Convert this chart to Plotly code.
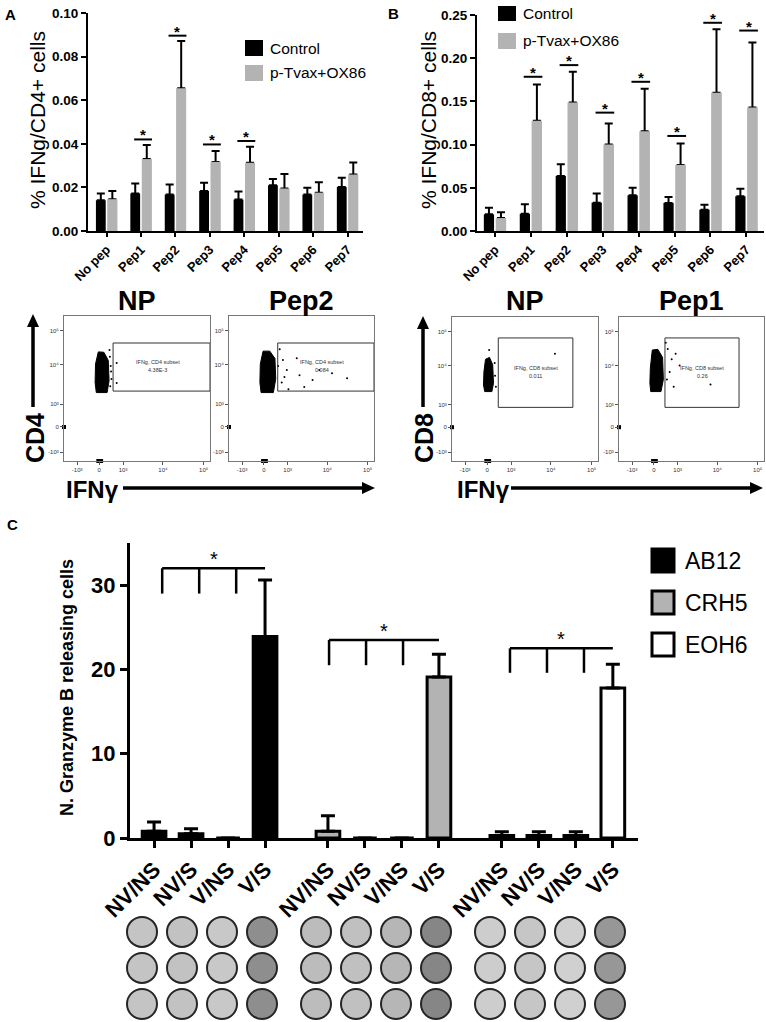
import plotly.graph_objects as go

W, H = 766, 1022
FONT = "Liberation Sans, Arial, Helvetica, sans-serif"

# ---------------- Panels A / B ----------------
pep_labels = ["No pep", "Pep1", "Pep2", "Pep3", "Pep4", "Pep5", "Pep6", "Pep7"]
group_names = ["Control", "p-Tvax+OX86"]

a_control = [0.0141, 0.0172, 0.0167, 0.0184, 0.0144, 0.0210, 0.0167, 0.0202]
a_control_err = [0.0031, 0.0046, 0.0046, 0.0037, 0.0037, 0.0029, 0.0031, 0.0042]
a_treated = [0.0146, 0.0330, 0.0655, 0.0317, 0.0313, 0.0195, 0.0176, 0.0259]
a_treated_err = [0.0037, 0.0064, 0.0216, 0.0050, 0.0074, 0.0066, 0.0048, 0.0055]
a_sig_peps = ["Pep1", "Pep2", "Pep3", "Pep4"]
a_sig_level = [0.0420, 0.0896, 0.0397, 0.0413]
a_yticks = [0.00, 0.02, 0.04, 0.06, 0.08, 0.10]

b_control = [0.0193, 0.0200, 0.0638, 0.0328, 0.0413, 0.0325, 0.0247, 0.0402]
b_control_err = [0.0077, 0.0110, 0.0135, 0.0105, 0.0089, 0.0069, 0.0058, 0.0088]
b_treated = [0.0150, 0.1275, 0.1488, 0.1000, 0.1155, 0.0765, 0.1600, 0.1430]
b_treated_err = [0.0066, 0.0421, 0.0355, 0.0244, 0.0491, 0.0247, 0.0734, 0.0753]
b_sig_peps = ["Pep1", "Pep2", "Pep3", "Pep4", "Pep5", "Pep6", "Pep7"]
b_sig_level = [0.1785, 0.1920, 0.1370, 0.1727, 0.1100, 0.2410, 0.2320]
b_yticks = [0.00, 0.05, 0.10, 0.15, 0.20, 0.25]

# ---------------- Flow cytometry dot plots (biexponential display units) ----------------
facs_tick_text = ["-10³", "0", "10³", "10⁴", "10⁵"]
facs_xtick_pos = [-0.55, 0.0, 0.60, 1.60, 2.62]
facs_ytick_pos = [-0.68, 0.0, 0.62, 1.68, 2.60]

cd4_np_cluster_x = [-0.07, 0.20, 0.25, 0.23, 0.12, -0.02, -0.09, -0.10]
cd4_np_cluster_y = [0.93, 0.93, 1.25, 1.80, 2.02, 2.03, 1.70, 1.20]
cd4_np_events_x = [0.28, 0.30, 0.27, 0.31, 0.44, 0.44, 0.26, 0.29]
cd4_np_events_y = [1.10, 1.50, 1.90, 1.30, 1.73, 1.19, 2.08, 1.65]

cd4_p2_cluster_x = [-0.07, 0.24, 0.30, 0.28, 0.15, -0.02, -0.09, -0.10]
cd4_p2_cluster_y = [0.93, 0.93, 1.30, 1.85, 2.05, 2.05, 1.70, 1.20]
cd4_p2_events_x = [0.48, 0.83, 0.58, 1.40, 2.10, 1.23, 0.90, 0.45, 0.62, 1.02, 1.72, 0.40, 0.36, 0.52]
cd4_p2_events_y = [1.81, 1.86, 1.54, 1.54, 1.32, 1.27, 1.40, 1.20, 1.02, 1.08, 1.45, 2.10, 1.65, 1.35]

cd8_np_cluster_x = [-0.06, 0.12, 0.16, 0.14, 0.06, -0.04, -0.08, -0.09]
cd8_np_cluster_y = [0.97, 0.97, 1.20, 1.70, 1.90, 1.85, 1.50, 1.15]
cd8_np_events_x = [1.70, 0.20, 0.19, 0.05, 0.22]
cd8_np_events_y = [2.00, 1.40, 1.75, 2.10, 1.10]

cd8_p1_cluster_x = [-0.08, 0.18, 0.24, 0.22, 0.10, -0.04, -0.09, -0.10]
cd8_p1_cluster_y = [0.97, 0.97, 1.30, 1.90, 2.12, 2.10, 1.60, 1.20]
cd8_p1_events_x = [0.35, 0.55, 0.50, 1.43, 0.65, 0.40, 0.45, 0.30, 0.33]
cd8_p1_events_y = [2.13, 2.00, 1.10, 1.16, 1.68, 1.50, 1.85, 2.30, 1.30]

cd4_gate = [0.35, 2.80, 0.97, 2.27]   # x0, x1, y0, y1
cd8_gate = [0.28, 2.15, 0.54, 2.43]
cd4_gate_name = "IFNg, CD4 subset"
cd8_gate_name = "IFNg, CD8 subset"
facs_titles = ["NP", "Pep2", "NP", "Pep1"]
facs_gate_values = ["4.38E-3", "0.084", "0.011", "0.26"]

# ---------------- Panel C : Granzyme B ----------------
c_conditions = ["NV/NS", "NV/S", "V/NS", "V/S"]
c_lines = ["AB12", "CRH5", "EOH6"]
ab12_mean = [0.8, 0.5, 0.0, 23.9]
ab12_err = [1.1, 0.6, 0.0, 6.7]
crh5_mean = [0.8, 0.0, 0.0, 19.1]
crh5_err = [1.85, 0.0, 0.0, 2.7]
eoh6_mean = [0.3, 0.3, 0.3, 17.8]
eoh6_err = [0.45, 0.45, 0.45, 2.8]
c_bracket_top = [32.0, 23.5, 22.5]
c_bracket_drop = [29.0, 20.5, 19.6]
c_yticks = [0, 10, 20, 30]

well_replicates = [3, 2, 1]
ab12_well_shade = ["#c4c4c4", "#c2c2c2", "#c8c8c8", "#8e8e8e"]
crh5_well_shade = ["#bcbcbc", "#c0c0c0", "#b6b6b6", "#868686"]
eoh6_well_shade = ["#cdcdcd", "#c6c6c6", "#d0d0d0", "#979797"]

# ---------------- helpers ----------------
def fx(p):
    return p / W


def fy(p):
    return 1 - p / H


annotations = []
shapes = []


def ann(text, x, y, size, bold=False, xanchor="center", yanchor="middle", angle=0,
        xref="paper", yref="paper", color="black"):
    annotations.append(dict(
        text=text, x=x, y=y, xref=xref, yref=yref, showarrow=False,
        xanchor=xanchor, yanchor=yanchor, textangle=angle,
        font=dict(family=FONT, size=size, color=color, weight="bold" if bold else "normal")))


def arrow_v(x, y_tail, y_head):
    shapes.append(dict(type="line", xref="paper", yref="paper", x0=fx(x), x1=fx(x),
                       y0=fy(y_tail), y1=fy(y_head + 10), line=dict(color="black", width=3.5)))
    shapes.append(dict(type="path", xref="paper", yref="paper", fillcolor="black", line=dict(width=0),
                       path="M %f %f L %f %f L %f %f Z" % (fx(x - 6), fy(y_head + 13), fx(x + 6), fy(y_head + 13),
                                                         fx(x), fy(y_head))))


def arrow_h(x_tail, x_head, y):
    shapes.append(dict(type="line", xref="paper", yref="paper", x0=fx(x_tail), x1=fx(x_head - 10),
                       y0=fy(y), y1=fy(y), line=dict(color="black", width=3.5)))
    shapes.append(dict(type="path", xref="paper", yref="paper", fillcolor="black", line=dict(width=0),
                       path="M %f %f L %f %f L %f %f Z" % (fx(x_head - 13), fy(y - 6), fx(x_head - 13), fy(y + 6),
                                                         fx(x_head), fy(y))))


fig = go.Figure()

GRAY = "#b3b3b3"


def add_ab_panel(xa, ya, ctl, ctl_err, trt, trt_err):
    fig.add_bar(x=pep_labels, y=ctl, name=group_names[0], marker=dict(color="black", line=dict(width=0)),
                offsetgroup="ctl", xaxis=xa, yaxis=ya,
                error_y=dict(type="data", symmetric=False, array=ctl_err, arrayminus=[0] * len(ctl),
                             color="black", thickness=2, width=4))
    fig.add_bar(x=pep_labels, y=trt, name=group_names[1], marker=dict(color=GRAY, line=dict(width=0)),
                offsetgroup="trt", xaxis=xa, yaxis=ya,
                error_y=dict(type="data", symmetric=False, array=trt_err, arrayminus=[0] * len(trt),
                             color="black", thickness=2, width=4))
    # repaint treated bars over the lower error-bar cap
    fig.add_bar(x=pep_labels, y=trt, marker=dict(color=GRAY, line=dict(width=0)),
                offsetgroup="trt", xaxis=xa, yaxis=ya, hoverinfo="skip")


add_ab_panel("x", "y", a_control, a_control_err, a_treated, a_treated_err)
add_ab_panel("x2", "y2", b_control, b_control_err, b_treated, b_treated_err)

for peps, levels, xr, yr in [(a_sig_peps, a_sig_level, "x", "y"), (b_sig_peps, b_sig_level, "x2", "y2")]:
    for p, lv in zip(peps, levels):
        i = pep_labels.index(p)
        shapes.append(dict(type="line", xref=xr, yref=yr, x0=i - 0.2, x1=i + 0.32, y0=lv, y1=lv,
                           line=dict(color="black", width=2)))
        annotations.append(dict(text="*", x=i + 0.06, y=lv, xref=xr, yref=yr, showarrow=False,
                                yanchor="bottom", yshift=-6,
                                font=dict(family=FONT, size=15, color="black", weight="bold")))

# ---------------- FACS plots ----------------
facs_sets = [
    (cd4_np_cluster_x, cd4_np_cluster_y, cd4_np_events_x, cd4_np_events_y, cd4_gate, cd4_gate_name),
    (cd4_p2_cluster_x, cd4_p2_cluster_y, cd4_p2_events_x, cd4_p2_events_y, cd4_gate, cd4_gate_name),
    (cd8_np_cluster_x, cd8_np_cluster_y, cd8_np_events_x, cd8_np_events_y, cd8_gate, cd8_gate_name),
    (cd8_p1_cluster_x, cd8_p1_cluster_y, cd8_p1_events_x, cd8_p1_events_y, cd8_gate, cd8_gate_name),
]
facs_boxes = [(64, 210, 316, 461), (229, 374, 316, 461), (452, 598, 317, 461), (619, 764, 317, 461)]
FX_RANGE = [-0.88, 2.78]
FY_RANGE = [-0.92, 3.0]

for k, (cx, cy, ex, ey, gate, gname) in enumerate(facs_sets):
    xa, ya = "x%d" % (k + 3), "y%d" % (k + 3)
    fig.add_trace(go.Scatter(x=cx + [cx[0]], y=cy + [cy[0]], mode="lines", fill="toself",
                             fillcolor="black", line=dict(color="black", width=1),
                             xaxis=xa, yaxis=ya, hoverinfo="skip"))
    fig.add_trace(go.Scatter(x=ex, y=ey, mode="markers", marker=dict(color="black", size=2),
                             xaxis=xa, yaxis=ya, hoverinfo="skip"))
    fig.add_trace(go.Scatter(x=[-0.02, 0.05, FX_RANGE[0]], y=[FY_RANGE[0], FY_RANGE[0], 0.0], mode="markers",
                             marker=dict(color="black", size=4, symbol="square"), cliponaxis=False,
                             xaxis=xa, yaxis=ya, hoverinfo="skip"))
    gx1 = min(gate[1], FX_RANGE[1])
    shapes.append(dict(type="rect", xref=xa, yref=ya, x0=gate[0], x1=gx1, y0=gate[2], y1=gate[3],
                       line=dict(color="#333333", width=1)))
    mx = (gate[0] + min(gate[1], 2.6)) / 2
    my = (gate[2] + gate[3]) / 2
    annotations.append(dict(text=gname, x=mx, y=my, xref=xa, yref=ya, showarrow=False, yshift=5,
                            font=dict(family=FONT, size=5.5, color="#333333")))
    annotations.append(dict(text=facs_gate_values[k], x=mx, y=my, xref=xa, yref=ya, showarrow=False, yshift=-3,
                            font=dict(family=FONT, size=5.5, color="#333333")))
    bx0, bx1, by0, by1 = facs_boxes[k]
    ann(facs_titles[k], fx((bx0 + bx1) / 2), fy(301), 27, bold=True)

# ---------------- Panel C bars ----------------
C_GAP = 4.7
c_series = [(ab12_mean, ab12_err, "black"), (crh5_mean, crh5_err, GRAY), (eoh6_mean, eoh6_err, "white")]
c_tickvals, c_ticktext = [], []
for g, (mean, err, col) in enumerate(c_series):
    xs = [g * C_GAP + i for i in range(len(c_conditions))]
    c_tickvals += xs
    c_ticktext += c_conditions
    fig.add_bar(x=xs, y=mean, name=c_lines[g], width=0.64, offset=-0.32, offsetgroup="c",
                marker=dict(color=col, line=dict(color="black", width=3)),
                error_y=dict(type="data", symmetric=False, array=err, arrayminus=[0] * len(err),
                             color="black", thickness=3, width=7),
                xaxis="x7", yaxis="y7")
    offs = [0.22, 0.03, 0.22][g]
    top, drop = c_bracket_top[g], c_bracket_drop[g]
    left = g * C_GAP + offs
    right = g * C_GAP + 3
    shapes.append(dict(type="line", xref="x7", yref="y7", x0=left, x1=right, y0=top, y1=top,
                       line=dict(color="black", width=2.5)))
    for i in range(3):
        xv = g * C_GAP + i + offs
        shapes.append(dict(type="line", xref="x7", yref="y7", x0=xv, x1=xv, y0=drop, y1=top,
                           line=dict(color="black", width=2.5)))
    annotations.append(dict(text="*", x=(left + right) / 2, y=top, xref="x7", yref="y7", showarrow=False,
                            yanchor="bottom", yshift=-4, font=dict(family=FONT, size=20, color="black")))

# ---------------- wells ----------------
W_GAP = 4.35
for g, shades in enumerate([ab12_well_shade, crh5_well_shade, eoh6_well_shade]):
    for i, shade in enumerate(shades):
        fig.add_trace(go.Scatter(
            x=[g * W_GAP + i] * len(well_replicates), y=well_replicates, mode="markers",
            marker=dict(size=30, color=shade, line=dict(color="#262626", width=2)),
            xaxis="x8", yaxis="y8", hoverinfo="skip"))

# ---------------- axes ----------------
def ab_xaxis(domain, rng, anchor):
    return dict(domain=domain, anchor=anchor, type="category", categoryorder="array",
                categoryarray=pep_labels, range=rng, showline=True, linecolor="black", linewidth=2,
                ticks="outside", ticklen=4, tickwidth=2, tickcolor="black", tickangle=-45,
                tickfont=dict(family=FONT, size=13, color="black", weight="bold"),
                showgrid=False, zeroline=False, automargin=False)


def ab_yaxis(domain, rng, tv, anchor):
    return dict(domain=domain, anchor=anchor, range=rng, tickvals=tv, tickformat=".2f",
                showline=True, linecolor="black", linewidth=2, ticks="outside", ticklen=5,
                tickwidth=2, tickcolor="black", showgrid=False, zeroline=False, automargin=False,
                tickfont=dict(family=FONT, size=13.5, color="black", weight="bold"))


def facs_axes(box, n):
    bx0, bx1, by0, by1 = box
    common = dict(ticktext=facs_tick_text, showline=True, mirror=True, linecolor="#777777", linewidth=1,
                  ticks="outside", ticklen=3, tickcolor="#555555", showgrid=False, zeroline=False,
                  automargin=False, tickfont=dict(family=FONT, size=6, color="#333333"))
    xa = dict(domain=[fx(bx0), fx(bx1)], anchor="y%d" % n, range=FX_RANGE, tickvals=facs_xtick_pos, **common)
    ya = dict(domain=[fy(by1), fy(by0)], anchor="x%d" % n, range=FY_RANGE, tickvals=facs_ytick_pos, **common)
    return xa, ya


layout = dict(
    width=W, height=H, autosize=False, margin=dict(l=0, r=0, t=0, b=0, pad=0, autoexpand=False),
    paper_bgcolor="white", plot_bgcolor="rgba(0,0,0,0)",
    font=dict(family=FONT, color="black"), showlegend=False,
    barmode="group", bargap=0.33, bargroupgap=0.15,
    xaxis=ab_xaxis([fx(88), fx(363)], [-0.54, 7.45], "y"),
    yaxis=ab_yaxis([fy(231), fy(13)], [0, 0.10], a_yticks, "x"),
    xaxis2=ab_xaxis([fx(477), fx(764)], [-0.5, 7.49], "y2"),
    yaxis2=ab_yaxis([fy(231), fy(15)], [0, 0.25], b_yticks, "x2"),
    xaxis7=dict(domain=[fx(130), fx(638)], anchor="y7", range=[-0.65, 13.08], tickvals=c_tickvals,
                ticktext=c_ticktext, tickangle=-45, showline=True, linecolor="black", linewidth=3,
                ticks="outside", ticklen=7, tickwidth=3, tickcolor="black", showgrid=False, zeroline=False,
                automargin=False, tickfont=dict(family=FONT, size=22, color="black", weight="bold")),
    yaxis7=dict(domain=[fy(838), fy(543)], anchor="x7", range=[0, 35], tickvals=c_yticks,
                showline=True, linecolor="black", linewidth=3, ticks="outside", ticklen=7, tickwidth=3,
                tickcolor="black", showgrid=False, zeroline=False, automargin=False,
                tickfont=dict(family=FONT, size=22, color="black", weight="bold")),
    xaxis8=dict(domain=[fx(102), fx(650)], anchor="y8", range=[-1, 12.7], visible=False),
    yaxis8=dict(domain=[0, fy(915)], anchor="x8", range=[0.5, 3.47], visible=False),
)
for k, box in enumerate(facs_boxes):
    n = k + 3
    xa, ya = facs_axes(box, n)
    layout["xaxis%d" % n] = xa
    layout["yaxis%d" % n] = ya

# ---------------- text, legends, arrows ----------------
ann("A", fx(3), fy(4), 15, bold=True, xanchor="left", yanchor="top")
ann("B", fx(386), fy(3), 15, bold=True, xanchor="left", yanchor="top")
ann("C", fx(5), fy(514), 15, bold=True, xanchor="left", yanchor="top")

ann("% IFNg/CD4+ cells", fx(37), fy(120), 21, angle=-90)
ann("% IFNg/CD8+ cells", fx(428), fy(120), 21, angle=-90)
ann("N. Granzyme B releasing cells", fx(67), fy(688), 18, bold=True, angle=-90)

for (sq, txt, col) in [((245, 40, 263, 56), group_names[0], "black"), ((245, 65, 263, 81), group_names[1], GRAY)]:
    shapes.append(dict(type="rect", xref="paper", yref="paper", x0=fx(sq[0]), x1=fx(sq[2]),
                       y0=fy(sq[3]), y1=fy(sq[1]), fillcolor=col, line=dict(width=0)))
    ann(txt, fx(268), fy((sq[1] + sq[3]) / 2), 15.5, xanchor="left")
for (sq, txt, col) in [((498, 6, 516, 21), group_names[0], "black"), ((498, 33, 516, 49), group_names[1], GRAY)]:
    shapes.append(dict(type="rect", xref="paper", yref="paper", x0=fx(sq[0]), x1=fx(sq[2]),
                       y0=fy(sq[3]), y1=fy(sq[1]), fillcolor=col, line=dict(width=0)))
    ann(txt, fx(521), fy((sq[1] + sq[3]) / 2), 15.5, xanchor="left")
for k, col in enumerate(["black", GRAY, "white"]):
    top = 549 + k * 42
    shapes.append(dict(type="rect", xref="paper", yref="paper", x0=fx(652), x1=fx(674),
                       y0=fy(top + 23), y1=fy(top), fillcolor=col, line=dict(color="black", width=3)))
    ann(c_lines[k], fx(683), fy(top + 12), 23, xanchor="left")

ann("CD4", fx(35), fy(438), 25, bold=True, angle=-90)
ann("CD8", fx(424), fy(438), 25, bold=True, angle=-90)
ann("IFNγ", fx(64), fy(490), 24, bold=True, xanchor="left")
ann("IFNγ", fx(455), fy(490), 24, bold=True, xanchor="left")
arrow_v(33, 407, 314)
arrow_v(423, 407, 316)
arrow_h(123, 375, 488)
arrow_h(511, 763, 488)

layout["annotations"] = annotations
layout["shapes"] = shapes
fig.update_layout(**layout)

fig.write_html("out.html", config={"displayModeBar": False},
               post_script="document.body.style.margin='0px';")
